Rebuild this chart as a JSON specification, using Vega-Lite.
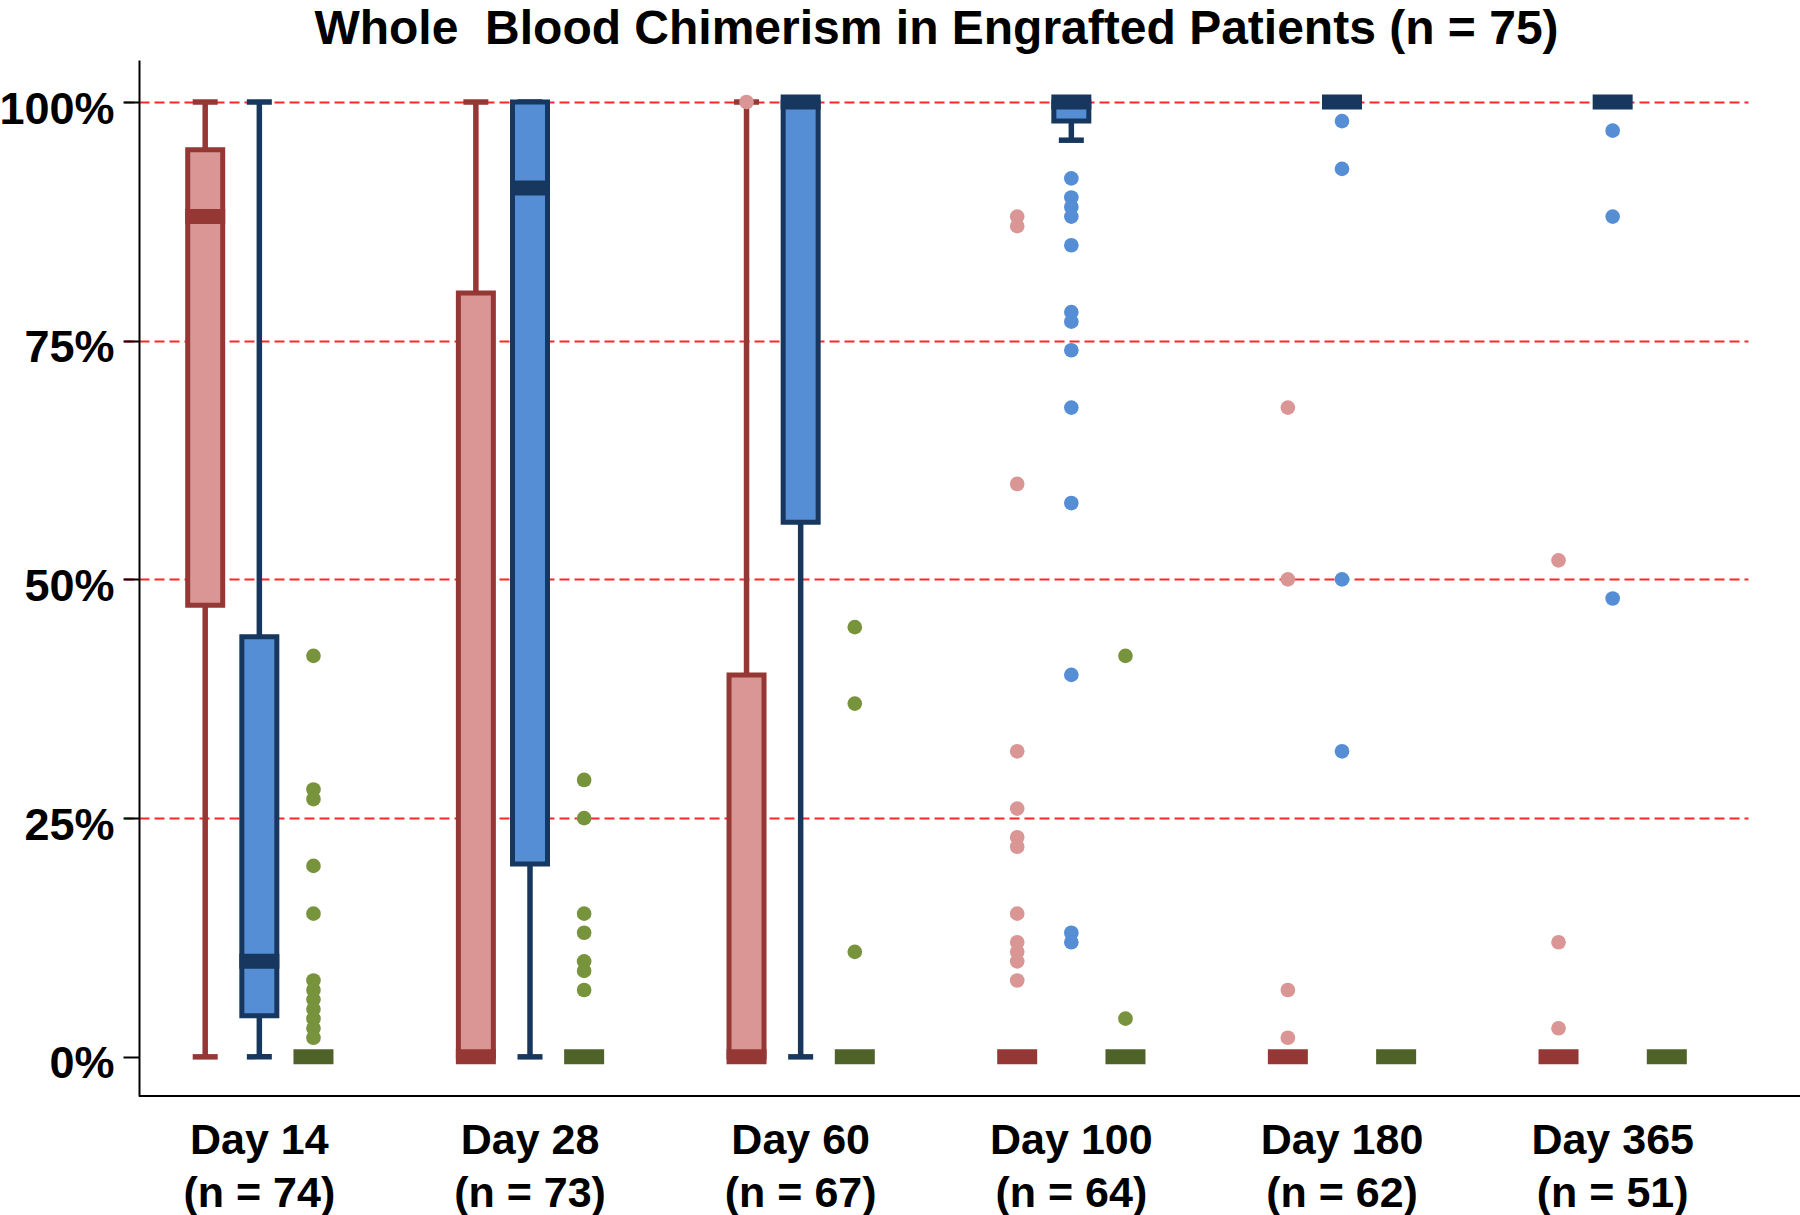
{
  "$schema": "https://vega.github.io/schema/vega-lite/v6.json",
  "width": 1661,
  "height": 1036,
  "autosize": "none",
  "padding": {"left": 139, "top": 60, "right": 0, "bottom": 119},
  "background": "white",
  "config": {"view": {"stroke": null}, "font": "Liberation Sans"},
  "title": {
    "text": "Whole\u00a0 Blood Chimerism in Engrafted Patients (n = 75)",
    "fontSize": 48, "fontWeight": "bold", "font": "Liberation Sans", "color": "black",
    "anchor": "middle", "frame": "group", "dx": -33, "offset": 6
  },
  "datasets": {
    "summary": [
      {"day": "Day 14|(n = 74)", "series": "Unit 1", "min": 0, "q1": 47.3, "median": 88, "q3": 95, "max": 100},
      {"day": "Day 14|(n = 74)", "series": "Unit 2", "min": 0, "q1": 4.3, "median": 10, "q3": 44, "max": 100},
      {"day": "Day 14|(n = 74)", "series": "Recipient", "min": 0, "q1": 0, "median": 0, "q3": 0, "max": 0},
      {"day": "Day 28|(n = 73)", "series": "Unit 1", "min": 0, "q1": 0, "median": 0, "q3": 80, "max": 100},
      {"day": "Day 28|(n = 73)", "series": "Unit 2", "min": 0, "q1": 20.2, "median": 91, "q3": 100, "max": 100},
      {"day": "Day 28|(n = 73)", "series": "Recipient", "min": 0, "q1": 0, "median": 0, "q3": 0, "max": 0},
      {"day": "Day 60|(n = 67)", "series": "Unit 1", "min": 0, "q1": 0, "median": 0, "q3": 40, "max": 100},
      {"day": "Day 60|(n = 67)", "series": "Unit 2", "min": 0, "q1": 56, "median": 100, "q3": 100, "max": 100},
      {"day": "Day 60|(n = 67)", "series": "Recipient", "min": 0, "q1": 0, "median": 0, "q3": 0, "max": 0},
      {"day": "Day 100|(n = 64)", "series": "Unit 1", "min": 0, "q1": 0, "median": 0, "q3": 0, "max": 0},
      {"day": "Day 100|(n = 64)", "series": "Unit 2", "min": 96, "q1": 98, "median": 100, "q3": 100, "max": 100},
      {"day": "Day 100|(n = 64)", "series": "Recipient", "min": 0, "q1": 0, "median": 0, "q3": 0, "max": 0},
      {"day": "Day 180|(n = 62)", "series": "Unit 1", "min": 0, "q1": 0, "median": 0, "q3": 0, "max": 0},
      {"day": "Day 180|(n = 62)", "series": "Unit 2", "min": 100, "q1": 100, "median": 100, "q3": 100, "max": 100},
      {"day": "Day 180|(n = 62)", "series": "Recipient", "min": 0, "q1": 0, "median": 0, "q3": 0, "max": 0},
      {"day": "Day 365|(n = 51)", "series": "Unit 1", "min": 0, "q1": 0, "median": 0, "q3": 0, "max": 0},
      {"day": "Day 365|(n = 51)", "series": "Unit 2", "min": 100, "q1": 100, "median": 100, "q3": 100, "max": 100},
      {"day": "Day 365|(n = 51)", "series": "Recipient", "min": 0, "q1": 0, "median": 0, "q3": 0, "max": 0}
    ],
    "outliers": [
      {"day": "Day 14|(n = 74)", "series": "Recipient", "value": 42},
      {"day": "Day 14|(n = 74)", "series": "Recipient", "value": 28},
      {"day": "Day 14|(n = 74)", "series": "Recipient", "value": 27},
      {"day": "Day 14|(n = 74)", "series": "Recipient", "value": 20},
      {"day": "Day 14|(n = 74)", "series": "Recipient", "value": 15},
      {"day": "Day 14|(n = 74)", "series": "Recipient", "value": 8},
      {"day": "Day 14|(n = 74)", "series": "Recipient", "value": 7},
      {"day": "Day 14|(n = 74)", "series": "Recipient", "value": 6},
      {"day": "Day 14|(n = 74)", "series": "Recipient", "value": 5},
      {"day": "Day 14|(n = 74)", "series": "Recipient", "value": 4},
      {"day": "Day 14|(n = 74)", "series": "Recipient", "value": 3},
      {"day": "Day 14|(n = 74)", "series": "Recipient", "value": 2},
      {"day": "Day 28|(n = 73)", "series": "Recipient", "value": 29},
      {"day": "Day 28|(n = 73)", "series": "Recipient", "value": 25},
      {"day": "Day 28|(n = 73)", "series": "Recipient", "value": 15},
      {"day": "Day 28|(n = 73)", "series": "Recipient", "value": 13},
      {"day": "Day 28|(n = 73)", "series": "Recipient", "value": 10},
      {"day": "Day 28|(n = 73)", "series": "Recipient", "value": 9},
      {"day": "Day 28|(n = 73)", "series": "Recipient", "value": 7},
      {"day": "Day 60|(n = 67)", "series": "Unit 1", "value": 100},
      {"day": "Day 60|(n = 67)", "series": "Recipient", "value": 45},
      {"day": "Day 60|(n = 67)", "series": "Recipient", "value": 37},
      {"day": "Day 60|(n = 67)", "series": "Recipient", "value": 11},
      {"day": "Day 100|(n = 64)", "series": "Unit 1", "value": 88},
      {"day": "Day 100|(n = 64)", "series": "Unit 1", "value": 87},
      {"day": "Day 100|(n = 64)", "series": "Unit 1", "value": 60},
      {"day": "Day 100|(n = 64)", "series": "Unit 1", "value": 32},
      {"day": "Day 100|(n = 64)", "series": "Unit 1", "value": 26},
      {"day": "Day 100|(n = 64)", "series": "Unit 1", "value": 23},
      {"day": "Day 100|(n = 64)", "series": "Unit 1", "value": 22},
      {"day": "Day 100|(n = 64)", "series": "Unit 1", "value": 15},
      {"day": "Day 100|(n = 64)", "series": "Unit 1", "value": 12},
      {"day": "Day 100|(n = 64)", "series": "Unit 1", "value": 11},
      {"day": "Day 100|(n = 64)", "series": "Unit 1", "value": 10},
      {"day": "Day 100|(n = 64)", "series": "Unit 1", "value": 8},
      {"day": "Day 100|(n = 64)", "series": "Unit 2", "value": 92},
      {"day": "Day 100|(n = 64)", "series": "Unit 2", "value": 90},
      {"day": "Day 100|(n = 64)", "series": "Unit 2", "value": 89},
      {"day": "Day 100|(n = 64)", "series": "Unit 2", "value": 88},
      {"day": "Day 100|(n = 64)", "series": "Unit 2", "value": 85},
      {"day": "Day 100|(n = 64)", "series": "Unit 2", "value": 78},
      {"day": "Day 100|(n = 64)", "series": "Unit 2", "value": 77},
      {"day": "Day 100|(n = 64)", "series": "Unit 2", "value": 74},
      {"day": "Day 100|(n = 64)", "series": "Unit 2", "value": 68},
      {"day": "Day 100|(n = 64)", "series": "Unit 2", "value": 58},
      {"day": "Day 100|(n = 64)", "series": "Unit 2", "value": 40},
      {"day": "Day 100|(n = 64)", "series": "Unit 2", "value": 13},
      {"day": "Day 100|(n = 64)", "series": "Unit 2", "value": 12},
      {"day": "Day 100|(n = 64)", "series": "Recipient", "value": 42},
      {"day": "Day 100|(n = 64)", "series": "Recipient", "value": 4},
      {"day": "Day 180|(n = 62)", "series": "Unit 1", "value": 68},
      {"day": "Day 180|(n = 62)", "series": "Unit 1", "value": 50},
      {"day": "Day 180|(n = 62)", "series": "Unit 1", "value": 7},
      {"day": "Day 180|(n = 62)", "series": "Unit 1", "value": 2},
      {"day": "Day 180|(n = 62)", "series": "Unit 2", "value": 98},
      {"day": "Day 180|(n = 62)", "series": "Unit 2", "value": 93},
      {"day": "Day 180|(n = 62)", "series": "Unit 2", "value": 50},
      {"day": "Day 180|(n = 62)", "series": "Unit 2", "value": 32},
      {"day": "Day 365|(n = 51)", "series": "Unit 1", "value": 52},
      {"day": "Day 365|(n = 51)", "series": "Unit 1", "value": 12},
      {"day": "Day 365|(n = 51)", "series": "Unit 1", "value": 3},
      {"day": "Day 365|(n = 51)", "series": "Unit 2", "value": 97},
      {"day": "Day 365|(n = 51)", "series": "Unit 2", "value": 88},
      {"day": "Day 365|(n = 51)", "series": "Unit 2", "value": 48}
    ]
  },
  "layer": [
    {
      "data": {"name": "summary"},
      "mark": {"type": "rule", "strokeWidth": 5.5, "opacity": 1},
      "encoding": {
        "x": {
          "field": "day", "type": "nominal",
          "sort": ["Day 14|(n = 74)", "Day 28|(n = 73)", "Day 60|(n = 67)", "Day 100|(n = 64)", "Day 180|(n = 62)", "Day 365|(n = 51)"],
          "scale": {"range": [-15, 1609], "paddingInner": 0, "paddingOuter": 0},
          "axis": {
            "title": null, "domain": false, "ticks": false, "tickSize": 0, "grid": false,
            "labelExpr": "split(datum.label, '|')", "labelAngle": 0,
            "labelFontSize": 43, "labelFontWeight": "bold", "labelColor": "black", "labelFont": "Liberation Sans",
            "labelLineHeight": 53, "labelBaseline": "top", "labelPadding": 23, "labelOverlap": false, "labelBound": false
          }
        },
        "xOffset": {
          "field": "series", "type": "nominal", "sort": ["Unit 1", "Unit 2", "Recipient"],
          "scale": {"paddingInner": 0, "paddingOuter": 1.103}
        },
        "y": {
          "field": "min", "type": "quantitative",
          "scale": {"domain": [-4.1, 104.4], "nice": false, "zero": false},
          "axis": {
            "title": null, "values": [0, 25, 50, 75, 100], "labelExpr": "datum.value + '%'",
            "labelFontSize": 45, "labelFontWeight": "bold", "labelColor": "black", "labelFont": "Liberation Sans",
            "labelPadding": 9, "labelBaseline": "alphabetic", "labelOffset": 21, "labelOverlap": false, "labelBound": false,
            "tickSize": 16, "tickWidth": 2, "tickColor": "black",
            "domainColor": "black", "domainWidth": 2,
            "grid": true, "gridColor": "#ff0000", "gridDash": [10, 5], "gridWidth": 2,
            "gridOpacity": {"condition": {"test": "datum.value === 0", "value": 0}, "value": 0.85}
          }
        },
        "y2": {"field": "max"},
        "color": {
          "field": "series", "type": "nominal",
          "scale": {"domain": ["Unit 1", "Unit 2", "Recipient"], "range": ["#953735", "#17375E", "#4F6228"]},
          "legend": null
        }
      }
    },
    {
      "data": {"name": "summary"},
      "mark": {"type": "tick", "size": 25, "thickness": 5.5, "opacity": 1, "orient": "horizontal"},
      "encoding": {
        "x": {"field": "day", "type": "nominal", "sort": ["Day 14|(n = 74)", "Day 28|(n = 73)", "Day 60|(n = 67)", "Day 100|(n = 64)", "Day 180|(n = 62)", "Day 365|(n = 51)"]},
        "xOffset": {"field": "series", "type": "nominal", "sort": ["Unit 1", "Unit 2", "Recipient"]},
        "y": {"field": "min", "type": "quantitative"},
        "color": {"field": "series", "type": "nominal", "legend": null}
      }
    },
    {
      "data": {"name": "summary"},
      "mark": {"type": "tick", "size": 25, "thickness": 5.5, "opacity": 1, "orient": "horizontal"},
      "encoding": {
        "x": {"field": "day", "type": "nominal", "sort": ["Day 14|(n = 74)", "Day 28|(n = 73)", "Day 60|(n = 67)", "Day 100|(n = 64)", "Day 180|(n = 62)", "Day 365|(n = 51)"]},
        "xOffset": {"field": "series", "type": "nominal", "sort": ["Unit 1", "Unit 2", "Recipient"]},
        "y": {"field": "max", "type": "quantitative"},
        "color": {"field": "series", "type": "nominal", "legend": null}
      }
    },
    {
      "data": {"name": "summary"},
      "mark": {"type": "bar", "width": 35, "strokeWidth": 5, "opacity": 1},
      "encoding": {
        "x": {"field": "day", "type": "nominal", "sort": ["Day 14|(n = 74)", "Day 28|(n = 73)", "Day 60|(n = 67)", "Day 100|(n = 64)", "Day 180|(n = 62)", "Day 365|(n = 51)"]},
        "xOffset": {"field": "series", "type": "nominal", "sort": ["Unit 1", "Unit 2", "Recipient"]},
        "y": {"field": "q1", "type": "quantitative"},
        "y2": {"field": "q3"},
        "fill": {
          "field": "series", "type": "nominal",
          "scale": {"domain": ["Unit 1", "Unit 2", "Recipient"], "range": ["#D99694", "#558ED5", "#77933C"]},
          "legend": null
        },
        "stroke": {
          "field": "series", "type": "nominal",
          "scale": {"domain": ["Unit 1", "Unit 2", "Recipient"], "range": ["#953735", "#17375E", "#4F6228"]},
          "legend": null
        }
      }
    },
    {
      "data": {"name": "summary"},
      "mark": {"type": "tick", "size": 40, "thickness": 15, "opacity": 1, "orient": "horizontal"},
      "encoding": {
        "x": {"field": "day", "type": "nominal", "sort": ["Day 14|(n = 74)", "Day 28|(n = 73)", "Day 60|(n = 67)", "Day 100|(n = 64)", "Day 180|(n = 62)", "Day 365|(n = 51)"]},
        "xOffset": {"field": "series", "type": "nominal", "sort": ["Unit 1", "Unit 2", "Recipient"]},
        "y": {"field": "median", "type": "quantitative"},
        "color": {"field": "series", "type": "nominal", "legend": null}
      }
    },
    {
      "data": {"name": "outliers"},
      "mark": {"type": "circle", "size": 215, "opacity": 1, "strokeWidth": 0},
      "encoding": {
        "x": {"field": "day", "type": "nominal", "sort": ["Day 14|(n = 74)", "Day 28|(n = 73)", "Day 60|(n = 67)", "Day 100|(n = 64)", "Day 180|(n = 62)", "Day 365|(n = 51)"]},
        "xOffset": {"field": "series", "type": "nominal", "sort": ["Unit 1", "Unit 2", "Recipient"]},
        "y": {"field": "value", "type": "quantitative"},
        "fill": {"field": "series", "type": "nominal", "legend": null}
      }
    },
    {
      "data": {"values": [{}]},
      "mark": {"type": "rule", "color": "black", "strokeWidth": 2},
      "encoding": {"y": {"datum": -4.1}}
    }
  ]
}
